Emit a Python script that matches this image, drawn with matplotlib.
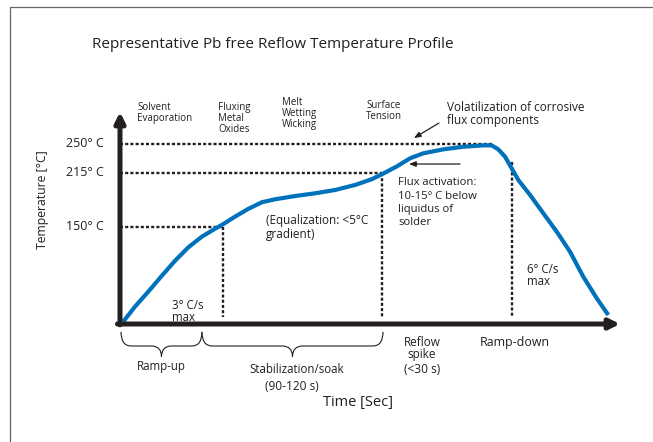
import numpy as np
import matplotlib
matplotlib.use("Agg")
import matplotlib.pyplot as plt
from matplotlib.path import Path
from matplotlib.patches import PathPatch
from matplotlib.lines import Line2D

plt.rcParams['font.family'] = ['Open Sans', 'DejaVu Sans']

## profile data: time [s] vs temperature [C]
time_s = [1.9, 8.8, 16.6, 24.5, 32.4, 40.2, 48.1, 55.9, 60.8, 67.6, 75.5, 83.4,
          91.2, 102.9, 114.7, 126.5, 138.2, 148.1, 154.1, 162.8, 170.6, 178.4,
          190.2, 201.9, 213.7, 218.6, 222.5, 226.5, 230.4, 234.3, 241.2, 249.0,
          256.9, 264.7, 272.5, 280.4, 287.2]
temp_c = [35.3, 53.4, 71.4, 90.4, 108.8, 124.9, 137.7, 147.3, 153.0, 161.8, 171.3,
          179.2, 182.8, 186.7, 190.0, 194.0, 200.0, 207.0, 213.0, 222.4, 232.2,
          238.2, 243.0, 246.1, 247.8, 247.8, 243.0, 234.1, 220.1, 206.0, 188.0,
          165.9, 143.7, 119.6, 89.5, 63.5, 43.4]

ref_temps = [250, 215, 150]
ref_labels = ["250° C", "215° C", "150° C"]
ref_times = [218.6, 154.1, 60.8]
peak_drop_time = 230.6
peak_drop_temp = 228

t_min, t_max = 0, 294.1
T_min, T_max = 32.5, 288

ink = "#231f20"
blue = "#0072bc"

fig = plt.figure(figsize=(6.53, 4.42), dpi=100)
ax = fig.add_axes([120/653, 1-324/442, 500/653, 212/442])
ax.set_xlim(t_min, t_max)
ax.set_ylim(T_min, T_max)
ax.axis("off")

# frame round the page
fig.add_artist(Line2D([10/653, 10/653, 1.0], [0.0, 1-7/442, 1-7/442],
                      transform=fig.transFigure, color="#666666", lw=0.9))

fig.text(92/653, 1-45/442, "Representative Pb free Reflow Temperature Profile",
         fontsize=11, color=ink, va="center", ha="left")

# dotted guide lines
dots = dict(color=ink, lw=1.7, linestyle=(0, (1.3, 0.9)))
for T, t in zip(ref_temps, ref_times):
    ax.plot([0, t], [T, T], **dots, clip_on=False)
ax.plot([ref_times[2], ref_times[2]], [ref_temps[2], 41], **dots)
ax.plot([ref_times[1], ref_times[1]], [ref_temps[1], 41], **dots)
ax.plot([peak_drop_time, peak_drop_time], [peak_drop_temp, 41], **dots)

# the profile
ax.plot(time_s, temp_c, color=blue, lw=3.0, solid_capstyle="butt",
        solid_joinstyle="round", zorder=4)

# axes arrows
arr = dict(arrowstyle="-|>,head_length=0.6,head_width=0.3", lw=3.6, color=ink,
           mutation_scale=10, shrinkA=0, shrinkB=0)
ax.annotate("", xy=(0, T_max), xytext=(0, T_min - 1), arrowprops=arr,
            annotation_clip=False, zorder=5)
ax.annotate("", xy=(t_max, T_min), xytext=(-1.5, T_min), arrowprops=arr,
            annotation_clip=False, zorder=5)

for T, lab in zip(ref_temps, ref_labels):
    ax.text(-9.4, T, lab, ha="right", va="center", fontsize=9, color=ink)
ax.text(-45.3, 182, "Temperature [°C]", rotation=90, ha="center", va="center",
        fontsize=8.8, color=ink)

# process stages along the top
top = dict(fontsize=7.0, color=ink, ha="left", va="top", linespacing=1.0)
ax.text(10.0, 300.5, "Solvent\nEvaporation", **top)
ax.text(57.6, 299.5, "Fluxing\nMetal\nOxides", **top)
ax.text(95.3, 305.5, "Melt\nWetting\nWicking", **top)
ax.text(144.7, 303, "Surface\nTension", **top)
ax.text(192.4, 301, "Volatilization of corrosive\nflux components",
        fontsize=8.5, color=ink, ha="left", va="top", linespacing=1.0)
ax.annotate("", xy=(172.9, 256.6), xytext=(187.6, 274.7),
            arrowprops=dict(arrowstyle="-|>,head_length=0.5,head_width=0.2",
                            lw=0.9, color=ink, mutation_scale=8,
                            shrinkA=0, shrinkB=0), annotation_clip=False)

# notes inside the plot
ax.text(163.5, 209.5, "Flux activation:\n10-15° C below\nliquidus of\nsolder",
        fontsize=8.1, color=ink, ha="left", va="top", linespacing=1.3)
ax.annotate("", xy=(170, 225.3), xytext=(200, 225.3),
            arrowprops=dict(arrowstyle="-|>,head_length=0.5,head_width=0.2",
                            lw=0.9, color=ink, mutation_scale=8,
                            shrinkA=0, shrinkB=0))
ax.text(85.9, 164.5, "(Equalization: <5°C\ngradient)", fontsize=8.5, color=ink,
        ha="left", va="top", linespacing=1.05)
ax.text(30.6, 63, "3° C/s\nmax", fontsize=8.3, color=ink, ha="left", va="top",
        linespacing=0.9)
ax.text(239.4, 106.5, "6° C/s\nmax", fontsize=8.3, color=ink, ha="left", va="top",
        linespacing=0.9)


def brace(x0, x1, y_top, y_mid, y_tip):
    xm = (x0 + x1) / 2
    r = min(6.0, (x1 - x0) / 8)
    verts = [(x0, y_top), (x0, y_mid), (x0 + r, y_mid),
             (xm - r, y_mid), (xm, y_mid), (xm, y_tip),
             (xm, y_mid), (xm + r, y_mid),
             (x1 - r, y_mid), (x1, y_mid), (x1, y_top)]
    codes = [Path.MOVETO, Path.CURVE3, Path.CURVE3,
             Path.LINETO, Path.CURVE3, Path.CURVE3,
             Path.CURVE3, Path.CURVE3,
             Path.LINETO, Path.CURVE3, Path.CURVE3]
    ax.add_patch(PathPatch(Path(verts, codes), fill=False, lw=0.8, ec=ink,
                           clip_on=False))


brace(0.6, 48.2, 23, 6, -7)
brace(48.2, 154.7, 23, 6, -7)

bot = dict(fontsize=8.3, color=ink, ha="center", va="center")
ax.text(24.1, -19.3, "Ramp-up", **bot)
ax.text(104.1, -22.9, "Stabilization/soak", **bot)
ax.text(101.2, -42.9, "(90-120 s)", fontsize=8.6, color=ink, ha="center", va="center")
ax.text(177.6, 18, "Reflow\nspike", fontsize=8.5, color=ink, ha="center", va="top",
        linespacing=0.92)
ax.text(177.6, -22.9, "(<30 s)", fontsize=8.6, color=ink, ha="center", va="center")
ax.text(232.4, 10.8, "Ramp-down", fontsize=8.9, color=ink, ha="center", va="center")
ax.text(140, -62.2, "Time [Sec]", fontsize=10.5, color=ink, ha="center", va="center")

fig.savefig("out.png", dpi=100)
